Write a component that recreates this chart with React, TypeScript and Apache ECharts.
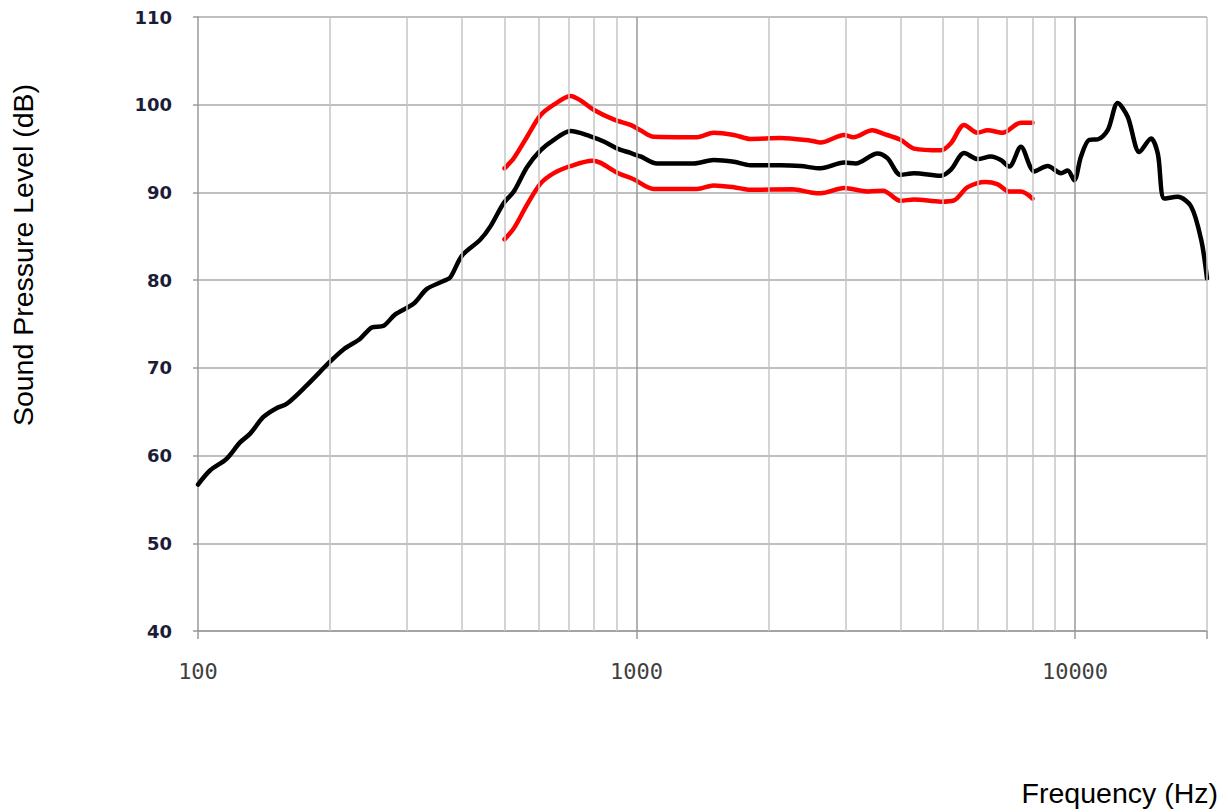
import React, { useEffect, useRef } from "react";
import * as echarts from "echarts";

const freqBlack = [100,106.5,116,124.7,131.5,141,151,159.4,177,200,214.7,234,249,265,281.8,310,332.7,363,376,400,440,464,498,525,563,604,648,707,785,842,904,969,1021,1114,1351,1499,1668,1820,2132,2368,2630,2974,3162,3543,3735,4000,4296,4944,5212,5588,5995,6428,6775,7080,7527,8076,8662,9290,9623,9960,10320,10781,11268,11874,12515,13193,14025,14911,15449,15996,17154,18399,19400,20000];
const splBlack = [56.7,58.3,59.6,61.5,62.5,64.4,65.4,65.9,68.0,70.7,72.1,73.3,74.6,74.8,76.1,77.3,79.0,79.9,80.3,82.8,84.6,86.1,88.8,90.1,92.9,94.8,96.0,97.0,96.4,95.8,95.0,94.5,94.1,93.3,93.3,93.7,93.5,93.1,93.1,93.0,92.75,93.4,93.3,94.45,93.9,92.0,92.2,91.9,92.6,94.5,93.8,94.1,93.7,92.95,95.2,92.4,93.0,92.2,92.5,91.4,94.1,96.0,96.05,97.1,100.2,98.6,94.6,96.15,94.4,89.3,89.5,88.4,84.6,80.2];

const freqUpper = [500,525,563,604,648,707,745,800,889,969,1021,1094,1376,1499,1668,1820,2132,2497,2630,2974,3123,3449,3650,4000,4296,4944,5212,5588,5995,6320,6833,7527,8000];
const splUpper = [92.75,93.9,96.35,98.8,100.0,101.0,100.5,99.4,98.3,97.7,97.1,96.35,96.3,96.8,96.55,96.1,96.2,95.9,95.7,96.55,96.3,97.1,96.7,96.0,95.0,94.8,95.6,97.7,96.8,97.1,96.8,97.95,97.95];

const freqLower = [500,525,563,604,648,707,793,826,904,985,1094,1376,1499,1668,1820,2264,2497,2630,2974,3372,3650,4000,4296,4944,5298,5690,6254,6648,7080,7527,8000];
const splLower = [84.65,85.9,88.6,91.0,92.2,93.0,93.6,93.4,92.25,91.5,90.4,90.4,90.8,90.6,90.3,90.35,90.0,89.9,90.5,90.1,90.2,89.05,89.2,88.95,89.1,90.6,91.2,90.95,90.1,90.1,89.3];

const decadeLabels = [100, 1000, 10000];
const minorGridFreqs = [200,300,400,500,600,700,800,900,2000,3000,4000,5000,6000,7000,8000,9000,20000];
const majorGridFreqs = [1000, 10000];

const yTitle = "Sound Pressure Level (dB)";
const xTitle = "Frequency (Hz)";

const zip = (xs: number[], ys: number[]) => xs.map((x, i) => [x, ys[i]]);

export default function App() {
  const ref = useRef<HTMLDivElement>(null);
  useEffect(() => {
    document.body.style.margin = "0";
    const chart = echarts.init(ref.current!, null, { renderer: "svg" });
    chart.setOption({
      animation: false,
      backgroundColor: "#ffffff",
      grid: { left: 198, top: 17, right: 22, bottom: 181 },
      xAxis: {
        type: "log",
        logBase: 10,
        min: 100,
        max: 20000,
        axisLine: { show: true, lineStyle: { color: "#9a9a9a", width: 1.5 } },
        axisTick: { show: true, length: 8, lineStyle: { color: "#9a9a9a", width: 1.5 } },
        splitLine: { show: false },
        axisLabel: {
          margin: 29,
          fontFamily: "DejaVu Sans Mono",
          fontSize: 22,
          color: "#404040",
          formatter: (v: number) => (decadeLabels.some((d) => Math.abs(d - v) < 1e-6 * d) ? String(Math.round(v)) : ""),
        },
      },
      yAxis: {
        type: "value",
        min: 40,
        max: 110,
        interval: 10,
        axisLine: { show: true, lineStyle: { color: "#9a9a9a", width: 1.5 } },
        axisTick: { show: true, length: 5, lineStyle: { color: "#9a9a9a", width: 1.5 } },
        splitLine: { show: true, lineStyle: { color: "#ababab", width: 1.5 } },
        axisLabel: {
          margin: 26,
          fontFamily: "DejaVu Sans",
          fontWeight: "bold",
          fontSize: 18,
          color: "#1c1c38",
        },
      },
      graphic: [
        {
          type: "text",
          x: 23,
          y: 255,
          rotation: Math.PI / 2,
          style: {
            text: yTitle,
            align: "center",
            verticalAlign: "middle",
            fontFamily: "Liberation Sans",
            fontSize: 28.5,
            fill: "#000000",
          },
        },
        {
          type: "text",
          x: 1218,
          y: 793,
          style: {
            text: xTitle,
            align: "right",
            verticalAlign: "middle",
            fontFamily: "Liberation Sans",
            fontSize: 28.5,
            fill: "#000000",
          },
        },
      ],
      series: [
        {
          type: "line",
          data: [],
          z: 1,
          markLine: {
            silent: true,
            symbol: "none",
            label: { show: false },
            lineStyle: { color: "#c6c6c6", width: 1.5, type: "solid" },
            data: minorGridFreqs.map((v) => ({ xAxis: v })),
          },
        },
        {
          type: "line",
          data: [],
          z: 1,
          markLine: {
            silent: true,
            symbol: "none",
            label: { show: false },
            lineStyle: { color: "#9a9a9a", width: 1.5, type: "solid" },
            data: majorGridFreqs.map((v) => ({ xAxis: v })),
          },
        },
        {
          type: "line",
          data: zip(freqUpper, splUpper),
          smooth: 0.3,
          showSymbol: false,
          z: 3,
          lineStyle: { color: "#ff0000", width: 4.5, cap: "round" },
        },
        {
          type: "line",
          data: zip(freqLower, splLower),
          smooth: 0.3,
          showSymbol: false,
          z: 3,
          lineStyle: { color: "#ff0000", width: 4.5, cap: "round" },
        },
        {
          type: "line",
          data: zip(freqBlack, splBlack),
          smooth: 0.3,
          showSymbol: false,
          z: 4,
          lineStyle: { color: "#000000", width: 4.5, cap: "round" },
        },
      ],
    });
    return () => chart.dispose();
  }, []);
  return <div ref={ref} style={{ width: 1229, height: 812 }} />;
}
